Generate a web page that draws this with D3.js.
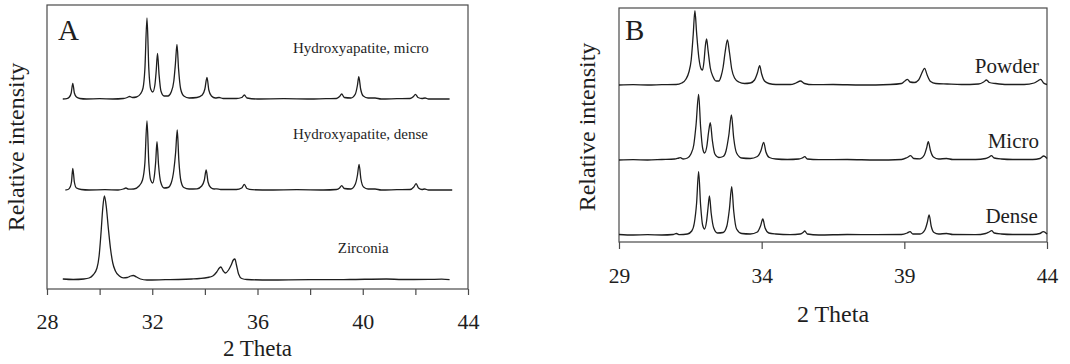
<!DOCTYPE html>
<html>
<head>
<meta charset="utf-8">
<script src="https://d3js.org/d3.v7.min.js"></script>
<style>
  body { margin: 0; background: #fff; }
  svg { display: block; font-family: 'Liberation Serif', 'Times New Roman', serif; }
</style>
</head>
<body>
<svg id="chart"></svg>
<script>
// tick labels
const ticksA = [28, 32, 36, 40, 44];
const minorTicksA = [30, 34, 38, 42];
const ticksB = [29, 34, 39, 44];

// series names
const labelsA = ['Hydroxyapatite, micro', 'Hydroxyapatite, dense', 'Zirconia'];
const labelsB = ['Powder', 'Micro', 'Dense'];

// stacking offsets (a.u.)
const offsetsA = [190, 99, 9];
const offsetsB = [157, 82, 7];

// [2 theta, relative intensity]
const microA = [[28.6,0],[28.75,0.3],[28.85,2],[28.92,6],[28.98,15.7],[29.04,6],[29.12,2],[29.25,0.5],[29.5,0],[30.0,0.3],[30.5,0],[30.9,0.5],[31.05,1.5],[31.14,2.5],[31.25,1.5],[31.4,2],[31.55,5],[31.65,11],[31.72,30],[31.8,81],[31.87,30],[31.94,10],[32.02,7],[32.1,14],[32.15,28],[32.2,45.7],[32.26,24],[32.33,8],[32.45,3],[32.6,3],[32.72,7],[32.82,18],[32.88,35],[32.94,54.7],[33.0,30],[33.08,10],[33.2,3],[33.4,1],[33.7,1.5],[33.9,4],[34.0,10],[34.08,21.7],[34.15,9],[34.25,3],[34.4,1],[34.54,1.5],[34.7,0.5],[35.2,0.5],[35.4,1.5],[35.5,4],[35.6,1],[36,0],[37,0.3],[38,0],[38.6,0.4],[39.0,0.5],[39.12,2.5],[39.2,5],[39.3,1.5],[39.55,1],[39.72,5],[39.8,14],[39.85,22.3],[39.92,10],[40.02,3],[40.2,1],[40.47,1],[40.7,0],[41.3,0.3],[41.8,0.5],[41.93,2.5],[42.0,4.7],[42.1,1.5],[42.25,0.5],[42.37,1],[42.5,0],[43.3,0]];
const denseA = [[28.7,0],[28.8,0.5],[28.88,3],[28.93,8],[28.98,21.7],[29.04,8],[29.12,2],[29.3,0.5],[29.6,0],[30.2,0.3],[30.7,0],[30.9,1],[31.0,2],[31.1,0.8],[31.3,1],[31.5,4],[31.63,10],[31.72,27],[31.8,69],[31.87,27],[31.94,10],[32.02,7],[32.08,14],[32.13,28],[32.18,48.3],[32.24,25],[32.32,8],[32.45,2],[32.6,2.5],[32.72,7],[32.82,20],[32.89,38],[32.95,60],[33.01,30],[33.09,9],[33.2,2.5],[33.4,1],[33.7,1.2],[33.88,4],[33.98,10],[34.05,20],[34.12,8],[34.22,2.5],[34.35,1],[34.45,1.2],[34.6,0.5],[35.2,0.5],[35.4,2],[35.5,5.7],[35.6,1.5],[35.8,0.3],[36.5,0],[37.5,0.3],[38.5,0],[39.0,0.5],[39.12,2],[39.2,4.3],[39.3,1.5],[39.55,1],[39.72,6],[39.8,15],[39.86,25.7],[39.93,11],[40.03,3],[40.2,1],[40.47,1],[40.7,0],[41.3,0.3],[41.8,0.5],[41.94,3],[42.03,6.3],[42.12,2],[42.25,0.5],[42.35,1],[42.5,0],[43.4,0]];
const zirconiaA = [[28.6,1],[29.0,0.5],[29.4,1],[29.6,2],[29.75,5],[29.9,12],[29.98,24],[30.05,46],[30.12,72],[30.18,84],[30.25,74],[30.33,52],[30.42,30],[30.5,17],[30.6,9],[30.75,4],[30.9,2.2],[31.05,2.5],[31.18,4],[31.28,4.5],[31.4,3],[31.55,1],[31.8,0],[32.5,0.3],[33.0,0.5],[33.5,1],[33.8,1.5],[34.1,2.5],[34.3,4],[34.45,8],[34.55,12],[34.61,13],[34.7,9],[34.78,7],[34.9,10],[35.0,15],[35.08,20],[35.14,21],[35.2,15],[35.28,6],[35.4,1.5],[35.6,0.5],[36.5,0],[38,0.3],[39.5,0.5],[40.9,1],[41.5,0.5],[42.5,0.6],[43.0,0.8],[43.3,0.3]];

const powderB = [[29,0],[29.5,0.3],[30,0],[30.5,0.3],[31.0,0.5],[31.2,2],[31.35,6],[31.45,13],[31.53,25],[31.6,50],[31.66,74.3],[31.72,52],[31.8,27],[31.88,16],[31.93,15],[31.98,24],[32.03,40],[32.07,46],[32.12,35],[32.2,17],[32.3,8],[32.4,4],[32.5,4],[32.58,9],[32.65,18],[32.72,33],[32.8,45],[32.87,33],[32.95,16],[33.05,7],[33.2,3],[33.4,1.5],[33.6,2],[33.75,5],[33.85,12],[33.93,19.3],[34.0,11],[34.1,4],[34.25,1.5],[34.5,0.5],[35.0,0.5],[35.2,2],[35.36,4],[35.5,1.5],[35.8,0.3],[36.5,0.5],[37.5,0],[38.5,0.5],[38.9,1.5],[39.02,4],[39.11,5.7],[39.2,3],[39.35,2.5],[39.5,5],[39.6,11],[39.71,16.7],[39.8,10],[39.92,3.5],[40.1,1.5],[40.5,1],[41.0,0.5],[41.6,1],[41.78,3],[41.88,5],[41.98,2.5],[42.2,1.5],[42.6,0.5],[43.2,0.5],[43.55,2],[43.7,4.5],[43.78,5.7],[43.88,2],[44,0.5]];
const microB = [[29,0],[29.5,0.3],[30,0],[30.5,0.5],[30.95,1],[31.1,2],[31.15,2.3],[31.25,1],[31.4,2],[31.52,6],[31.62,15],[31.7,35],[31.79,65.7],[31.86,33],[31.93,12],[32.0,7],[32.08,14],[32.14,28],[32.2,37.3],[32.27,20],[32.36,6],[32.5,2.5],[32.65,3.5],[32.75,9],[32.85,25],[32.94,45],[33.02,22],[33.12,7],[33.3,2],[33.6,1.5],[33.85,3.5],[33.97,9],[34.07,17.7],[34.15,8],[34.27,2.5],[34.5,1],[34.9,0.5],[35.3,1],[35.42,2],[35.51,3.3],[35.6,1],[36,0.3],[37,0.5],[38,0],[38.9,0.5],[39.1,2.5],[39.22,4.3],[39.33,1.5],[39.55,1.2],[39.7,5],[39.78,12],[39.84,18.3],[39.92,9],[40.02,3],[40.2,1],[40.48,1.5],[40.7,0.5],[41.5,0.5],[41.85,1.5],[41.97,3],[42.05,4.3],[42.15,2],[42.4,1],[42.8,0.5],[43.5,0.5],[43.75,1.5],[43.89,4],[44,1.5]];
const denseB = [[29,0.5],[29.5,0],[30,0.3],[30.5,0],[30.9,0.5],[31.01,1.5],[31.12,0.3],[31.4,1],[31.55,4],[31.64,12],[31.72,32],[31.79,63.3],[31.86,30],[31.93,10],[32.0,6],[32.07,14],[32.12,27],[32.17,39],[32.23,22],[32.32,7],[32.45,2],[32.65,2.5],[32.78,9],[32.87,26],[32.95,48.3],[33.02,24],[33.12,6],[33.3,1.5],[33.6,1],[33.85,3],[33.96,9],[34.04,16],[34.12,7],[34.25,2],[34.5,1],[35.0,0.3],[35.35,1],[35.45,2.5],[35.51,4],[35.6,1],[36,0],[37,0.5],[38,0.3],[38.9,0.5],[39.1,2],[39.2,3.3],[39.3,1],[39.55,1],[39.72,5],[39.8,12],[39.87,20],[39.94,9],[40.04,2.5],[40.2,1],[40.48,1.5],[40.7,0.5],[41.5,0.3],[41.85,1.5],[41.97,3],[42.06,4.3],[42.15,2],[42.4,1],[42.8,0.5],[43.5,0.5],[43.75,1.5],[43.87,3.3],[44,1]];

const ink = '#1e1e1e';
const frameInk = '#4a4a4a';

const svg = d3.select('#chart')
  .attr('width', 1070)
  .attr('height', 364);

function drawPanel(p) {
  const x = d3.scaleLinear().domain(p.xDomain).range([p.left, p.right]);
  const y = d3.scaleLinear().domain(p.yDomain).range([p.bottom, p.top]);
  const g = svg.append('g');

  // frame
  g.append('rect')
    .attr('x', p.left).attr('y', p.top)
    .attr('width', p.right - p.left).attr('height', p.bottom - p.top)
    .attr('fill', 'none').attr('stroke', frameInk).attr('stroke-width', 1.2);

  // bottom axis, ticks pointing out
  const axis = d3.axisBottom(x)
    .tickValues(p.ticks.concat(p.minor || []))
    .tickSize(p.tickLen)
    .tickFormat(d => p.ticks.includes(d) ? d : '');
  const ax = g.append('g')
    .attr('transform', `translate(0,${p.bottom})`)
    .call(axis);
  ax.select('.domain').remove();
  ax.selectAll('.tick line').attr('stroke', frameInk).attr('stroke-width', 1.2);
  ax.selectAll('.tick text')
    .attr('fill', ink)
    .attr('font-family', 'Liberation Serif')
    .attr('font-size', p.tickFont)
    .attr('dy', null)
    .attr('y', p.tickLabelY - p.bottom);

  // axis titles
  g.append('text')
    .attr('x', (p.left + p.right) / 2).attr('y', p.xTitleY)
    .attr('text-anchor', 'middle').attr('font-size', p.titleFont).attr('fill', ink)
    .text('2 Theta');
  g.append('text')
    .attr('transform', `translate(${p.yTitleX},${p.yTitleMid}) rotate(-90)`)
    .attr('text-anchor', 'middle').attr('font-size', 24).attr('fill', ink)
    .text('Relative intensity');

  // panel letter
  g.append('text')
    .attr('x', p.left + p.letterDx).attr('y', p.top + p.letterDy)
    .attr('font-size', 29).attr('fill', ink)
    .text(p.letter);

  // patterns
  p.series.forEach((s, i) => {
    const line = d3.line()
      .x(d => x(d[0]))
      .y(d => y(d[1] + p.offsets[i]))
      .curve(d3.curveMonotoneX);
    g.append('path')
      .datum(s)
      .attr('d', line)
      .attr('fill', 'none')
      .attr('stroke', ink)
      .attr('stroke-width', 1.3)
      .attr('stroke-linejoin', 'round');
  });

  // series labels
  p.labels.forEach((t, i) => {
    const pos = p.labelPos[i];
    g.append('text')
      .attr('x', x(pos[0])).attr('y', y(pos[1]))
      .attr('text-anchor', p.labelAnchor)
      .attr('font-size', p.labelFont).attr('fill', ink)
      .text(t);
  });
}

drawPanel({
  letter: 'A', letterDx: 11, letterDy: 35,
  left: 47, right: 468, top: 5, bottom: 289,
  xDomain: [28, 44], yDomain: [0, 284],
  ticks: ticksA, minor: minorTicksA, tickLen: 6,
  tickFont: 22, tickLabelY: 329,
  titleFont: 23, xTitleY: 356,
  yTitleX: 24, yTitleMid: 147,
  series: [microA, denseA, zirconiaA], offsets: offsetsA,
  labels: labelsA, labelFont: 15, labelAnchor: 'start',
  labelPos: [[37.35, 236], [37.35, 150], [39.05, 36]]
});

drawPanel({
  letter: 'B', letterDx: 6, letterDy: 32,
  left: 619, right: 1047, top: 8, bottom: 242,
  xDomain: [29, 44], yDomain: [0, 234],
  ticks: ticksB, tickLen: 7,
  tickFont: 21.5, tickLabelY: 283,
  titleFont: 24, xTitleY: 322,
  yTitleX: 595, yTitleMid: 127,
  series: [powderB, microB, denseB], offsets: offsetsB,
  labels: labelsB, labelFont: 21, labelAnchor: 'end',
  labelPos: [[43.72, 169], [43.72, 94], [43.68, 19]]
});
</script>
</body>
</html>
